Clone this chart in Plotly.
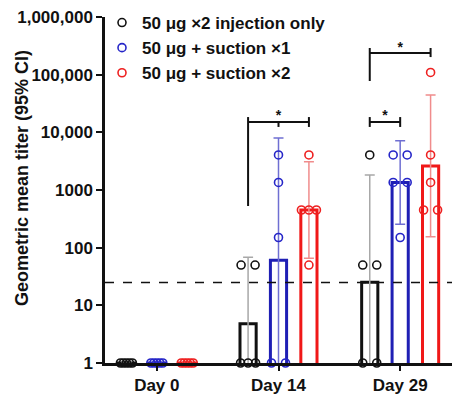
import plotly.graph_objects as go

# ---------------- data ----------------
days = ["Day 0", "Day 14", "Day 29"]
group_names = ["50 μg ×2 injection only", "50 μg + suction ×1", "50 μg + suction ×2"]

# individual titers per day (5 animals each)
pts_inj = [[1, 1, 1, 1, 1], [1, 1, 1, 50, 50], [1, 1, 50, 50, 4050]]
pts_s1 = [[1, 1, 1, 1, 1], [1, 1, 150, 1350, 4050], [150, 1350, 1350, 4050, 4050]]
pts_s2 = [[1, 1, 1, 1, 1], [50, 450, 450, 450, 4050], [450, 450, 1350, 4050, 109350]]

# geometric mean titers
gmt_inj = [1, 4.78, 25.2]
gmt_s1 = [1, 60.7, 1350]
gmt_s2 = [1, 450, 2612]

# 95% CI
ci_lo_inj = [None, 0.33, 0.35]
ci_hi_inj = [None, 68.4, 1820]
ci_lo_s1 = [None, 0.46, 254]
ci_hi_s1 = [None, 7980, 7180]
ci_lo_s2 = [None, 65.4, 154]
ci_hi_s2 = [None, 3092, 44200]

lod = 25

y_tickvals = [1, 10, 100, 1000, 10000, 100000, 1000000]
y_ticktext = ["1", "10", "100", "1000", "10,000", "100,000", "1,000,000"]
y_title = "Geometric mean titer (95% CI)"

# significance brackets: (day index, left group, right group, level, left-leg bottom, right-leg bottom, mid tick group)
brackets = [
    (1, 0, 2, 15100, 528, 12400, 1),
    (2, 0, 2, 237000, 77600, 202000, None),
    (2, 0, 1, 15100, 12400, 12400, None),
]
bracket_tops = [18400, 290000, 18400]
star_x = [(1, 1), (2, 1), (2, 0.5)]
star_y = [19200, 290000, 19200]

# ---------------- styling ----------------
W, H = 462, 398
ML, MR, MT, MB = 105, 10, 17, 35
PW, PH = W - ML - MR, H - MT - MB
x_range = [-0.426, 2.426]
px_per_unit = PW / (x_range[1] - x_range[0])
offsets = [-0.25, 0.0, 0.25]
bar_w = 0.133

line_cols = ["#111111", "#1f1fb4", "#f01818"]
err_cols = ["#a8a8a8", "#6f6fd2", "#f08c8c"]
pt_cols = ["#111111", "#2626c8", "#ee2020"]
spread_px = {1: 0, 2: 14, 3: 15, 4: 14, 5: 12}

FONT = "Liberation Sans, Arial, Helvetica, sans-serif"

pts_all = [pts_inj, pts_s1, pts_s2]
gmt_all = [gmt_inj, gmt_s1, gmt_s2]
lo_all = [ci_lo_inj, ci_lo_s1, ci_lo_s2]
hi_all = [ci_hi_inj, ci_hi_s1, ci_hi_s2]

fig = go.Figure()

for g in range(3):
    xs = [d + offsets[g] for d in range(3)]
    gm = gmt_all[g]
    plus = [None if h is None else h - m for h, m in zip(hi_all[g], gm)]
    minus = [None if l is None else m - l for l, m in zip(lo_all[g], gm)]
    fig.add_trace(go.Bar(
        x=xs, y=gm, width=bar_w,
        marker=dict(color="rgba(0,0,0,0)", line=dict(color=line_cols[g], width=3)),
        error_y=dict(type="data", symmetric=False, array=plus, arrayminus=minus,
                     color=err_cols[g], thickness=1.5, width=5),
        showlegend=False, hoverinfo="skip",
    ))

for g in range(3):
    px_x, px_y = [], []
    for d in range(3):
        vals = pts_all[g][d]
        uniq = []
        for v in vals:
            if v not in uniq:
                uniq.append(v)
        for v in uniq:
            n = vals.count(v)
            w = spread_px[n] / px_per_unit
            for k in range(n):
                off = 0 if n == 1 else -w / 2 + w * k / (n - 1)
                px_x.append(d + offsets[g] + off)
                px_y.append(v)
    fig.add_trace(go.Scatter(
        x=px_x, y=px_y, mode="markers", name=group_names[g],
        marker=dict(symbol="circle-open", size=8, color=pt_cols[g], line=dict(width=1.6)),
        cliponaxis=False,
    ))

# brackets
bx, by = [], []
for (d, a, b, lvl, lbot, rbot, mid), top in zip(brackets, bracket_tops):
    xa, xb = d + offsets[a], d + offsets[b]
    bx += [xa, xb, None, xa, xa, None, xb, xb, None]
    by += [lvl, lvl, None, top, lbot, None, top, rbot, None]
    if mid is not None:
        xm = d + offsets[mid]
        bx += [xm, xm, None]
        by += [lvl, rbot, None]
fig.add_trace(go.Scatter(x=bx, y=by, mode="lines", line=dict(color="#111111", width=2),
                         showlegend=False, hoverinfo="skip", cliponaxis=False))
fig.add_trace(go.Scatter(
    x=[d + (offsets[0] + offsets[2]) / 2 if f == 1 else d + (offsets[0] + offsets[1]) / 2 for d, f in star_x],
    y=star_y, mode="text", text=["*"] * len(star_y),
    textfont=dict(family=FONT, size=14, color="#111111", weight="bold"),
    showlegend=False, hoverinfo="skip", cliponaxis=False))

fig.add_shape(type="line", xref="paper", x0=0, x1=1, yref="y", y0=lod, y1=lod,
              line=dict(color="#111111", width=1.5, dash="dash"))

fig.add_annotation(text=y_title, textangle=-90, showarrow=False,
                   xref="paper", x=(22 - ML) / PW, xanchor="center",
                   yref="paper", y=(H - MB - 178) / PH, yanchor="middle",
                   font=dict(family=FONT, size=18, color="#111111", weight="bold"))

fig.update_layout(
    width=W, height=H,
    margin=dict(l=ML, r=MR, t=MT, b=MB, autoexpand=False),
    paper_bgcolor="white", plot_bgcolor="white",
    font=dict(family=FONT, size=17, color="#111111", weight="bold"),
    barmode="overlay",
    legend=dict(x=(102 - ML) / PW, y=(H - MB - 5) / PH, xanchor="left", yanchor="top",
                font=dict(family=FONT, size=17, color="#111111", weight="bold"),
                bgcolor="rgba(0,0,0,0)", tracegroupgap=0),
    xaxis=dict(range=x_range, tickvals=[0, 1, 2], ticktext=days, showgrid=False,
               zeroline=False, showline=True, linecolor="#111111", linewidth=2.5,
               ticks="outside", ticklen=5, tickwidth=2, tickcolor="#111111",
               automargin=False,
               tickfont=dict(family=FONT, size=17, color="#111111", weight="bold")),
    yaxis=dict(type="log", range=[0, 6], tickvals=y_tickvals, ticktext=y_ticktext,
               showgrid=False, zeroline=False, showline=True, linecolor="#111111",
               linewidth=2.5, ticks="outside", ticklen=6, tickwidth=2, tickcolor="#111111",
               automargin=False,
               tickfont=dict(family=FONT, size=17, color="#111111", weight="bold")),
)

fig.write_html("out.html", config={"displayModeBar": False},
               post_script="document.body.style.margin='0';document.body.style.padding='0';")
